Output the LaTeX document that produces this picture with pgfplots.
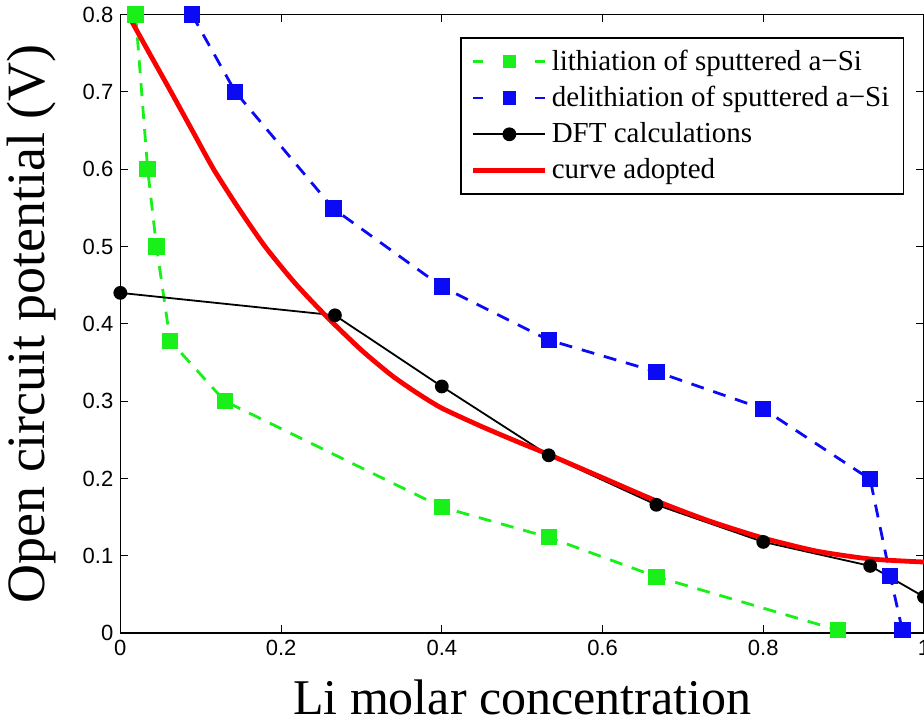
\documentclass[border=0pt]{standalone}
\usepackage{fontspec}
\setmainfont{Liberation Serif}
\newfontfamily\ticksans{Liberation Sans}
\usepackage{pgfplots}
\pgfplotsset{compat=1.18}
\definecolor{mgreen}{RGB}{25,240,25}
\definecolor{mblue}{RGB}{10,10,245}
\definecolor{mred}{RGB}{250,0,0}

\pgfplotsset{
  dashlegend/.style={legend image code/.code={
      \draw[##1,solid,mark=none] (0pt,0pt) -- (5pt,0pt);
      \draw[##1,solid,mark=none] (31pt,0pt) -- (36pt,0pt);
      \draw[##1,mark size=2.6pt] plot coordinates {(18pt,0pt)};}},
  linelegend/.style={legend image code/.code={
      \draw[##1,mark repeat=2,mark phase=2] plot coordinates {(0pt,0pt) (18pt,0pt) (36pt,0pt)};}},
}

\begin{document}
\begin{tikzpicture}[trim axis right]
\begin{axis}[
    scale only axis,
    width=402pt, height=309.5pt,
    xmin=0, xmax=1, ymin=0, ymax=0.8,
    xtick={0,0.2,0.4,0.6,0.8,1},
    ytick={0,0.1,0.2,0.3,0.4,0.5,0.6,0.7,0.8},
    tick align=inside,
    major tick length=4pt,
    axis line style={line width=0.8pt},
    every tick/.style={black, line width=0.5pt},
    ticklabel style={font=\ticksans\fontsize{11}{13}\selectfont},
    /pgf/number format/assume math mode=true,
    xlabel={Li molar concentration},
    ylabel={Open circuit potential (V)},
    xlabel style={font=\fontsize{25}{30}\selectfont, at={(axis description cs:0.5,-0.103)}, anchor=center},
    ylabel style={font=\fontsize{27}{32}\selectfont, at={(axis description cs:-0.111,0.5)}, anchor=center},
    legend style={at={(0.975,0.963)}, anchor=north east, draw=black, line width=0.6pt,
        font=\fontsize{14.5}{16}\selectfont, cells={anchor=west}, row sep=2.5pt,
        inner xsep=5pt, inner ysep=4pt},
]
\addplot[color=mgreen, line width=1.4pt, dash pattern=on 6.5pt off 5pt,
    mark=square*, mark size=3.4pt, mark options={solid}, dashlegend]
  coordinates {(0.019,0.8) (0.034,0.6) (0.045,0.5) (0.062,0.378) (0.13,0.3)
               (0.4,0.163) (0.533,0.124) (0.667,0.073) (0.893,0.004)};
\addlegendentry{lithiation of sputtered a−Si}
\addplot[color=mblue, line width=1.4pt, dash pattern=on 6.5pt off 5pt,
    mark=square*, mark size=3.4pt, mark options={solid}, dashlegend]
  coordinates {(0.089,0.8) (0.143,0.7) (0.265,0.549) (0.4,0.448) (0.533,0.379)
               (0.667,0.338) (0.8,0.29) (0.933,0.199) (0.958,0.074) (0.973,0.004)};
\addlegendentry{delithiation of sputtered a−Si}
\addplot[color=black, line width=0.9pt, mark=*, mark size=3pt, linelegend]
  coordinates {(0,0.44) (0.267,0.411) (0.4,0.319) (0.533,0.23) (0.667,0.166)
               (0.8,0.118) (0.933,0.087) (1,0.047)};
\addlegendentry{DFT calculations}
\addplot[color=mred, line width=2.4pt, smooth, tension=0.4, linelegend]
  coordinates {(0.012,0.795) (0.035,0.752) (0.063,0.70) (0.09,0.649) (0.116,0.60)
               (0.148,0.548) (0.18,0.50) (0.217,0.453) (0.256,0.41) (0.3,0.366)
               (0.338,0.333) (0.37,0.31) (0.4,0.291) (0.45,0.267) (0.5,0.245)
               (0.533,0.231) (0.6,0.201) (0.667,0.171) (0.733,0.145) (0.8,0.123)
               (0.867,0.106) (0.933,0.096) (1,0.092)};
\addlegendentry{curve adopted}
\end{axis}
\end{tikzpicture}
\end{document}
